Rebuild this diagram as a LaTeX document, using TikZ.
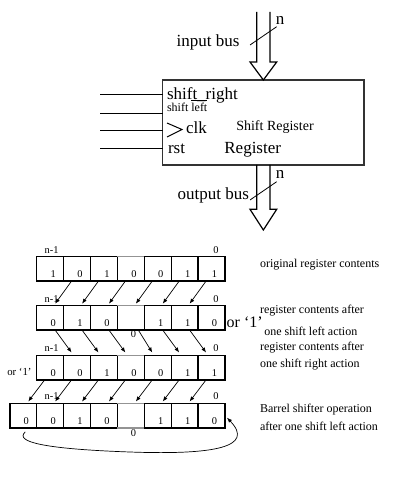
\documentclass[tikz,border=0pt]{standalone}
\usepackage{fontspec}
\setmainfont{Liberation Serif}
\usetikzlibrary{arrows.meta,calc}
\begin{document}
\begin{tikzpicture}[x=0.5pt,y=-0.5pt,
  every node/.style={inner sep=0pt,outer sep=0pt},
  bigtxt/.style={font=\fontsize{8.5}{10}\selectfont},
  midtxt/.style={font=\fontsize{7}{8}\selectfont},
  tinytxt/.style={font=\fontsize{6}{7}\selectfont},
  labtxt/.style={font=\fontsize{6}{7}\selectfont, anchor=west},
  digit/.style={font=\fontsize{5.2}{6}\selectfont},
  cell/.style={draw, line width=0.7pt, minimum width=13.45pt, minimum height=12.2pt, anchor=north west},
  ghost/.style={minimum width=13.45pt, minimum height=12.2pt, anchor=north west},
  arr/.style={-{Latex[length=2.5pt,width=2pt]}, line width=0.35pt},
  bus/.style={line width=0.6pt},
]
\useasboundingbox (0,0) rectangle (402,486);

% ---------- register block ----------
\node[draw, line width=0.7pt, black!80, minimum width=100.65pt, minimum height=42.5pt, anchor=north west] (reg) at (162.7,80) {};
\foreach \k/\y in {1/95,2/113.3,3/131,4/148.3} {
  \coordinate (in\k) at (100,\y);
  \draw[line width=0.5pt] (in\k) -- (in\k -| reg.west);
}
\draw[line width=0.5pt] (167,123) -- (182,129.5) -- (167,137);

% input bus
\draw[bus] (256.7,12) -- (256.7,62) -- (250,62) -- (reg.north) -- (276.7,62) -- (270,62) -- (270,12);
\draw[line width=0.4pt] (250,45) -- (276.7,26.7);
\node[bigtxt, anchor=base] (ib) at (208,47) {input bus};
\node[bigtxt, anchor=base] (nin) at (280,25) {n};

% output bus
\draw[bus] (256.7,165) -- (256.7,209.3) -- (250,209.3) -- (263.35,230) -- (276.7,209.3) -- (270,209.3) -- (270,165);
\draw[line width=0.4pt] (250,200) -- (276.7,181.7);
\node[bigtxt, anchor=base] (ob) at (213.3,199) {output bus};
\node[bigtxt, anchor=base] (nout) at (280,178) {n};

\node[bigtxt, anchor=base west] (sr) at (167,100) {shift\_right};
\node[tinytxt, anchor=base west] (sl) at (167,112) {shift $\overline{\hbox{left}}$};
\node[bigtxt, anchor=base west] (clk) at (186,134) {clk};
\node[bigtxt, anchor=base west] (rst) at (168,154) {rst};
\node[midtxt, anchor=base] (srl) at (275,131) {Shift Register};
\node[bigtxt, anchor=base] (regl) at (252.7,154) {Register};

% ---------- register rows ----------
\foreach \r/\y in {1/256.7,2/305.7,3/355.5,4/403.5} {
  \foreach \i in {0,1,2,4,5,6} \node[cell] (c\r\i) at ({36.7+26.9*\i},\y) {};
  \node[ghost] (c\r3) at ({36.7+26.9*3},\y) {};
  \node[digit] (n\r) at ($(c\r0.north)+(1.5,-7)$) {n-1};
  \node[digit] (z\r) at ($(c\r6.north)+(4.5,-7)$) {0};
}
\node[cell] (c4x) at (9.8,403.5) {};
\foreach \r in {1,2,3} {
  \draw[line width=0.7pt, gray!85] (c\r3.north west) -- (c\r3.north east);
  \draw[line width=0.7pt] (c\r3.south west) -- (c\r3.south east);
}
\draw[line width=0.7pt, gray!85] (c43.north west) -- (c43.north east);
\draw[line width=0.7pt, gray!85] (c43.south west) -- (c43.south east);

% digits
\foreach \i/\d in {0/1,1/0,2/1,3/0,4/0,5/1,6/1}
  \node[digit] (d1\i) at ($(c1\i.center)+(3,5.5)$) {\d};
\foreach \i/\d in {0/0,1/1,2/0,4/1,5/1,6/0}
  \node[digit] (d2\i) at ($(c2\i.center)+(3,5.5)$) {\d};
\node[digit] (d23) at ($(c23.south)+(2.5,4)$) {0};
\foreach \i/\d in {0/0,1/0,2/1,3/0,4/0,5/1,6/1}
  \node[digit] (d3\i) at ($(c3\i.center)+(3,5.5)$) {\d};
\node[digit] (d4x) at ($(c4x.center)+(3,5.5)$) {0};
\foreach \i/\d in {0/0,1/1,2/0,4/1,5/1,6/0}
  \node[digit] (d4\i) at ($(c4\i.center)+(3,5.5)$) {\d};
\node[digit] (d43) at ($(c43.south)+(2.5,5)$) {0};

% arrows
\foreach \i/\j in {1/0,2/1,3/2,4/3,5/4,6/5}
  \draw[arr] ($(c1\i.south)+(-5.5,0)$) -- ($(c2\j.north)+(5,-2)$);
\foreach \i/\j/\o in {0/1/5,1/2/5,2/3/5,3/4/7.5,4/5/5,5/6/5}
  \draw[arr] ($(c2\i.south)+(\o,0)$) -- ($(c3\j.north)+(-5.5,-3)$);
\foreach \i/\j in {0/4x,1/40,2/41,3/42,4/43,5/44,6/45}
  \draw[arr] ($(c3\i.south)+(-5.5,0)$) -- ($(c\j.north)+(5,-2)$);
\draw[arr] ($(c4x.south)+(2,4)$) .. controls (14,442) and (45,449) .. (130,452)
  .. controls (215,455) and (255,447) .. ($(c46.east)+(2,2)$);

% side texts
\node[font=\fontsize{8}{9}\selectfont, anchor=base west] (or1) at (226.7,327.5) {or ‘1’};
\node[font=\fontsize{5.4}{6}\selectfont, anchor=base west] (or2) at (7.3,375.5) {or ‘1’};
\node[labtxt] (t1) at (260,265) {original register contents};
\node[labtxt] (t2) at (260,311) {register contents after};
\node[labtxt] (t3) at (264.3,331.7) {one shift left action};
\node[labtxt] (t4) at (260,347.7) {register contents after};
\node[labtxt] (t5) at (260,365) {one shift right action};
\node[labtxt] (t6) at (260,410) {Barrel shifter operation};
\node[labtxt] (t7) at (260,426.7) {after one shift left action};
\end{tikzpicture}
\end{document}
